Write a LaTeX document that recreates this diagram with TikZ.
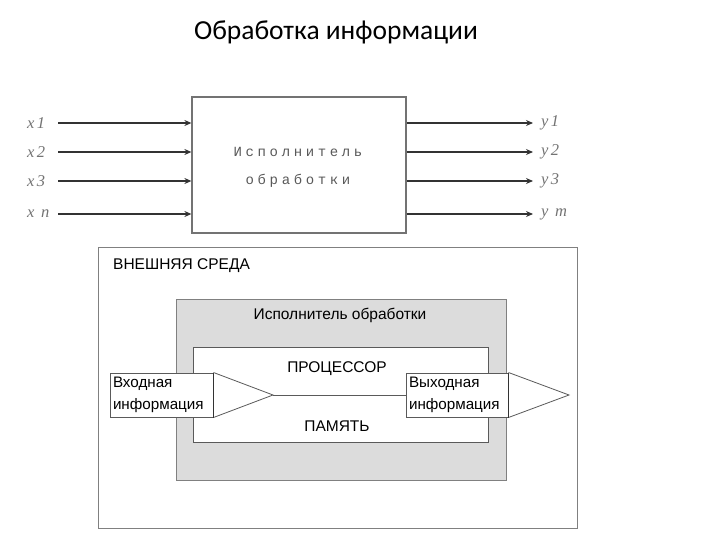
\documentclass[tikz,border=0pt]{standalone}
\usepackage{fontspec}
\setmainfont{Liberation Sans}
\newfontfamily\titlefont{Carlito}
\newfontfamily\spacedmono[LetterSpace=26]{Liberation Mono}
\newfontfamily\labelserif[LetterSpace=15]{Liberation Serif}
\usetikzlibrary{arrows.meta}
\definecolor{edge}{HTML}{5A5A5A}
\definecolor{shade}{HTML}{DCDCDC}
\tikzset{
  box/.style={draw=edge, line width=1pt, fill=white, inner sep=0pt},
  arr/.style={draw=black!80, line width=1.4pt, -{Stealth[length=7pt,width=6pt]}},
  xlab/.style={font=\labelserif\itshape\fontsize{16.5}{17}\selectfont, text=black!55, inner sep=0pt},
  txt/.style={font=\fontsize{15.5}{18}\selectfont, inner sep=0pt},
  iobox/.style={box, align=left, text width=97pt, inner xsep=3pt, font=\fontsize{15.2}{22}\selectfont, minimum height=44pt}
}
\begin{document}
\begin{tikzpicture}[x=1pt,y=-1pt]
\useasboundingbox (0,0) rectangle (720,540);
% title
\node[font=\titlefont\fontsize{27.5}{28}\selectfont] (title) at (336,32) {Обработка информации};
% top box
\node[box, minimum width=214pt, minimum height=136pt, draw=black!55, line width=1.2pt] (top) at (299,165) {};
\node[font=\spacedmono\fontsize{14}{28}\selectfont, text=black!65, align=center] (toptxt) at (298,167) {Исполнитель\\обработки};
% inputs
\foreach \n/\y/\t in {1/123/x1, 2/152/x2, 3/181/x3, 4/214/x n}{
  \node[xlab, anchor=west] (xl\n) at (27,\y) {\t};
  \coordinate (i\n) at (58,\y);
  \draw[arr] (i\n) -- (i\n -| top.west);
}
% outputs
\foreach \n/\y/\t in {1/123/y1, 2/152/y2, 3/181/y3, 4/214/y m}{
  \coordinate (o\n) at (533,\y);
  \draw[arr] (o\n -| top.east) -- (o\n);
  \node[xlab, anchor=west] (yl\n) at (541,\y) {\t};
}
% environment
\node[box, draw=black!50, minimum width=479pt, minimum height=281pt] (env) at (337.5,387.5) {};
\node[txt, anchor=west] (envlab) at (113,266) {ВНЕШНЯЯ СРЕДА};
\node[box, fill=shade, draw=black!50, minimum width=330pt, minimum height=181pt] (exec) at (341,389.5) {};
\node[txt] (execlab) at (340,315) {Исполнитель обработки};
\node[box, minimum width=295pt, minimum height=95pt] (core) at (340.5,394.5) {};
\node[txt] (proc) at (337,369) {ПРОЦЕССОР};
\node[txt] (mem) at (337,426) {ПАМЯТЬ};
% input / output
\node[iobox] (inL) at (161.5,395) {Входная\\информация};
\node[iobox, text width=96pt] (outR) at (457,395) {Выходная\\информация};
\coordinate (tipL) at (273,395);
\coordinate (tipR) at (569,395);
\draw[edge, line width=0.8pt, fill=white] (inL.north east) -- (tipL) -- (inL.south east);
\draw[edge, line width=0.8pt, fill=white] (outR.north east) -- (tipR) -- (outR.south east);
\draw[edge, line width=0.8pt] (tipL) -- (outR.west);
\draw[black!80, line width=1.8pt] (inL.north east) -- (inL.south east);
\draw[black!80, line width=1.8pt] (outR.north east) -- (outR.south east);
\end{tikzpicture}
\end{document}
